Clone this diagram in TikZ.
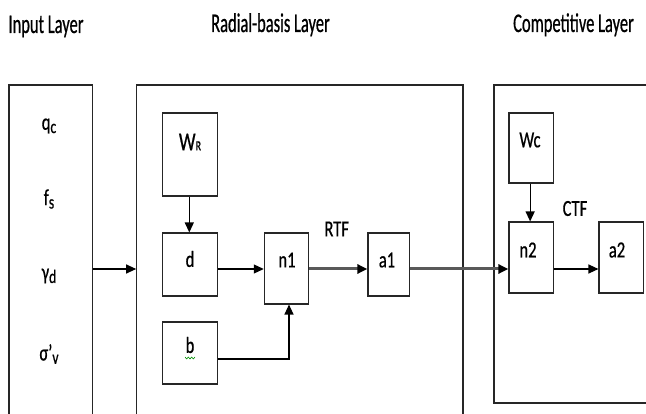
\documentclass[tikz,border=0pt]{standalone}
\usepackage{fontspec}
\setmainfont{Carlito}[FakeStretch=0.72, FakeBold=0.6]
\newfontfamily\headfont{Carlito}[FakeStretch=0.61, FakeBold=0.6]
\usetikzlibrary{arrows.meta}

% lowered, slightly smaller subscript letter
\newcommand\lowsub[1]{\raisebox{-0.3ex}{\fontsize{19}{19}\selectfont #1}}

\begin{document}
\begin{tikzpicture}[x=1pt,y=-1pt,
  layerbox/.style={draw=black!85, line width=1.1pt, inner sep=0pt},
  unitbox/.style={draw=black!85, line width=1.1pt, inner sep=0pt},
  header/.style={font=\headfont\fontsize{27}{27}\selectfont, inner sep=0pt, anchor=base},
  lbl/.style={font=\fontsize{23}{23}\selectfont, inner sep=0pt},
  arr/.style={draw=black, line width=1.2pt, -{Triangle[length=10pt,width=9pt]}},
  grayarr/.style={draw=black!65, line width=3pt, -{Triangle[length=10pt,width=9pt,color=black]}}
]
\useasboundingbox (0,0) rectangle (646,414);
\clip (0,0) rectangle (646,414);

% layer headings
\node[header] (hin)  at (46,33)    {Input Layer};
\node[header] (hrad) at (270.5,32) {Radial-basis Layer};
\node[header] (hcmp) at (573.5,32) {Competitive Layer};

% layer frames
\node[layerbox, minimum width=83.7pt, minimum height=355pt] (inbox) at (50.85,262.5) {};
\node[layerbox, minimum width=326.3pt, minimum height=355pt] (rbox) at (299.85,262.5) {};
\node[layerbox, minimum width=186pt, minimum height=318pt] (cbox) at (587,244) {};

% inputs
\node[lbl] (qc) at (49,126) {q\lowsub{c}};
\node[lbl] (fs) at (49,199) {f\lowsub{s}};
\node[lbl] (gd) at (49,276) {γ\lowsub{d}};
\node[lbl] (sv) at (49,354) {σ’\lowsub{v}};

% radial-basis units
\node[unitbox, minimum width=55pt, minimum height=83pt] (wr) at (190.2,154.5) {};
\node[unitbox, minimum width=55pt, minimum height=63pt] (d)  at (190.2,264.5) {};
\node[unitbox, minimum width=44pt, minimum height=71pt] (n1) at (286.3,268.5) {};
\node[unitbox, minimum width=41.3pt, minimum height=63pt] (a1) at (388.65,264.5) {};
\node[unitbox, minimum width=55pt, minimum height=62pt] (b)  at (190.2,353) {};

\node[lbl, font=\fontsize{26}{26}\selectfont] (twr) at (190,142) {W{\fontsize{14}{14}\selectfont R}};
\node[lbl] (td)  at (190,259) {d};
\node[lbl] (tn1) at (287,260) {n1};
\node[lbl] (ta1) at (387,260) {a1};
\node[lbl] (tb)  at (190,345) {b};
\node[lbl] (rtf) at (336.7,229) {RTF};

% competitive units
\node[unitbox, minimum width=44.3pt, minimum height=70pt] (wc) at (531.15,148) {};
\node[unitbox, minimum width=44.3pt, minimum height=71pt] (n2) at (531.15,257.5) {};
\node[unitbox, minimum width=44.7pt, minimum height=71pt] (a2) at (621.35,257.5) {};

\node[lbl] (twc) at (530,140) {Wc};
\node[lbl] (tn2) at (528,250) {n2};
\node[lbl] (ta2) at (617,250) {a2};
\node[lbl] (ctf) at (575,208.5) {CTF};

% spell-check squiggle under b
\draw[green!55!black, line width=0.6pt] (185,357) -- (186.7,359) -- (188.3,357) -- (190,359) -- (191.7,357) -- (193.3,359) -- (195,357);

% signal level and bias level
\coordinate (ya) at (0,269);
\coordinate (yb) at (0,359);

% connectors
\draw[arr] (inbox.east |- ya) -- (rbox.west |- ya);
\draw[arr] ([xshift=-0.9pt]wr.south) -- ([xshift=-0.9pt]d.north);
\draw[arr] (d.east |- ya) -- (n1.west |- ya);
\draw[arr] (b.east |- yb) -| ([xshift=2.7pt]n1.south);
\draw[grayarr] (n1.east |- ya) -- (a1.west |- ya);
\draw[grayarr] (a1.east |- ya) -- (n2.west |- ya);
\draw[arr] ([xshift=-1pt]wc.south) -- ([xshift=-1pt]n2.north);
\draw[arr] (n2.east |- ya) -- (a2.west |- ya);
\end{tikzpicture}
\end{document}
